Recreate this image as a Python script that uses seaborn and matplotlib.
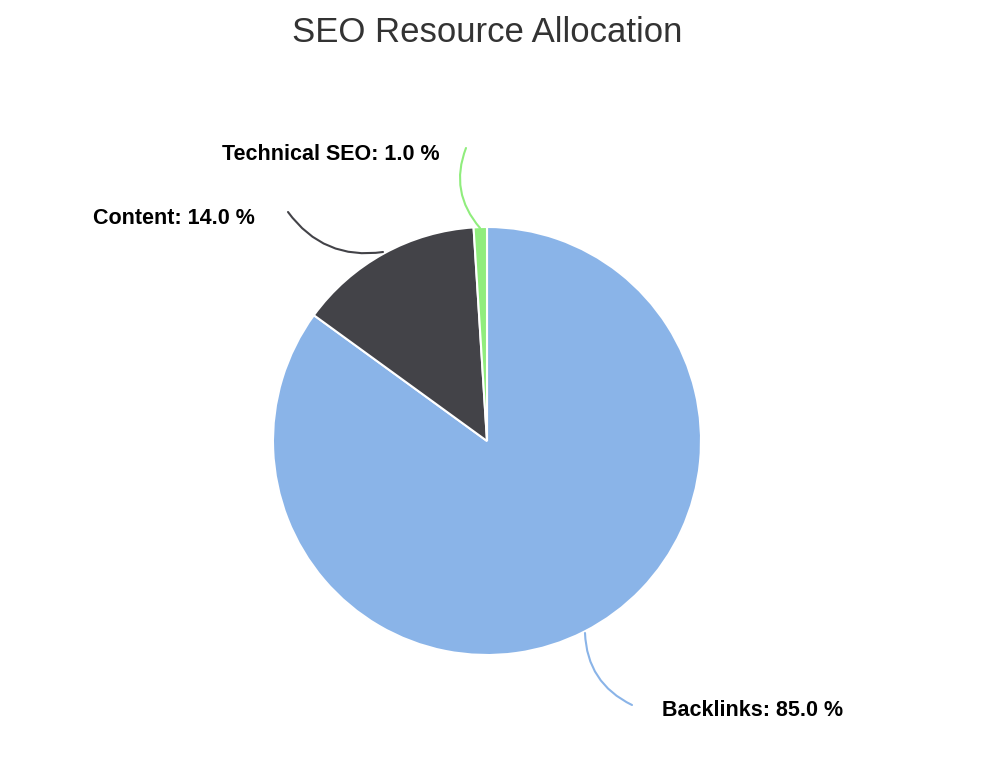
import matplotlib
matplotlib.use("Agg")
import matplotlib.pyplot as plt
import seaborn as sns

sns.set_theme(style="white")
plt.rcParams['font.family'] = ['Liberation Sans', 'DejaVu Sans']

categories = ["Backlinks", "Content", "Technical SEO"]
values = [85.0, 14.0, 1.0]
colors = ["#8ab4e8", "#434348", "#90ed7d"]

fig = plt.figure(figsize=(9.86, 7.59), dpi=100)
ax = fig.add_axes([0, 0, 1, 1])
ax.set_xlim(0, 986)
ax.set_ylim(0, 759)
ax.set_aspect("equal")
ax.axis("off")

cx, cy, r = 487, 318, 214
wedges, _ = ax.pie(values, colors=colors, startangle=90, counterclock=False,
                   center=(cx, cy), radius=r, frame=True,
                   wedgeprops=dict(edgecolor="white", linewidth=1.5))
ax.set_xlim(0, 986)
ax.set_ylim(0, 759)
ax.axis("off")

# label positions (text anchor, connector start on edge, connector end)
specs = [
    (dict(xy=(585, 759-633), xytext=(662, 759-711), ha="left"), (632, 759-705), "arc3,rad=-0.3"),
    (dict(xy=(383, 759-252), xytext=(255, 759-218), ha="right"), (288, 759-212), "arc3,rad=0.3"),
    (dict(xy=(480, 759-228), xytext=(440, 759-155), ha="right"), (466, 759-148), "arc3,rad=0.3"),
]
for (kw, end, cs), cat, v, c in zip(specs, categories, values, colors):
    ax.text(kw["xytext"][0], kw["xytext"][1], f"{cat}: {v:.1f} %", ha=kw["ha"], va="center",
            fontsize=15.5, fontweight="bold", color="black")
    ax.annotate("", xy=kw["xy"], xytext=end,
                arrowprops=dict(arrowstyle="-", color=c, lw=1.5, connectionstyle=cs,
                                shrinkA=0, shrinkB=0))

fig.text(0.494, 1 - 32/759, "SEO Resource Allocation", ha="center", va="center",
         fontsize=25, color="#333333")
fig.savefig("out.png", dpi=100)
